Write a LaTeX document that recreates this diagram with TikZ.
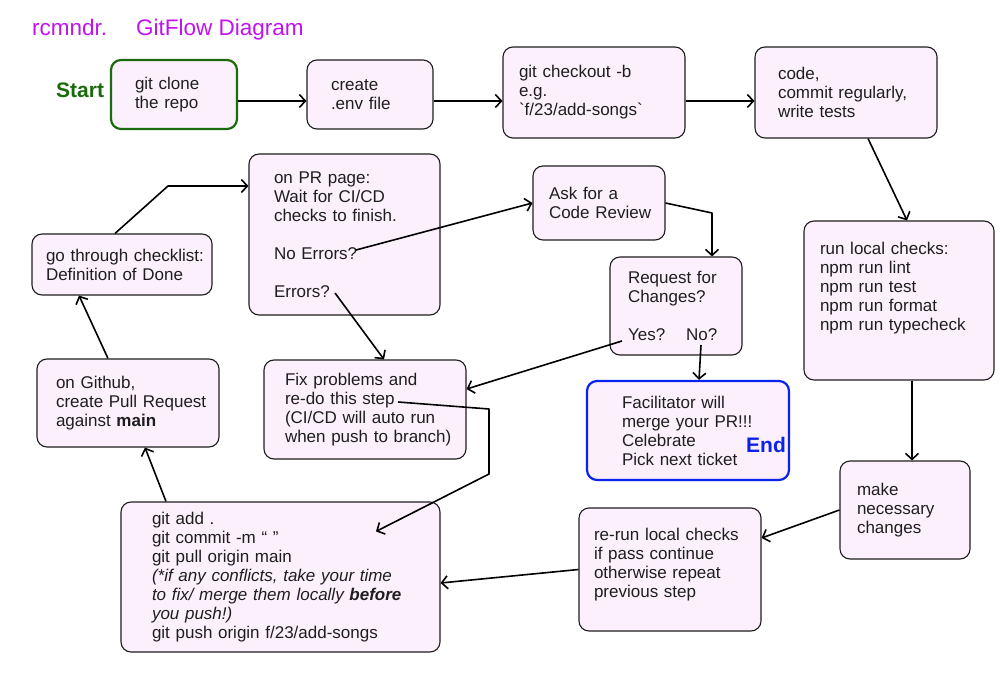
\documentclass[tikz,border=0pt]{standalone}
\usepackage{fontspec}
\setmainfont{Liberation Sans}
\usetikzlibrary{arrows.meta,positioning}
\definecolor{boxfill}{HTML}{FDF0FD}
\definecolor{inkdark}{HTML}{1E1E1E}
\definecolor{titleviolet}{HTML}{C212F2}
\definecolor{startgreen}{HTML}{1C6A0E}
\definecolor{endblue}{HTML}{0A22EE}
\tikzset{%
stepnode/.style={draw=inkdark, line width=1.1pt, rounded corners=10pt, fill=boxfill, align=left, inner sep=0pt, text=inkdark, font=\fontsize{17}{19}\selectfont},
startnode/.style={stepnode, draw=startgreen, line width=2.2pt},
endnode/.style={stepnode, draw=endblue, line width=2.2pt},
pt/.style={draw=black, line width=1.6pt, line join=round, -{Straight Barb[length=6pt,width=13pt]}}
}

\begin{document}
\begin{tikzpicture}[x=1pt,y=-1pt,
		headline/.style={anchor=base west, inner sep=0pt, text=titleviolet, font=\fontsize{22.5}{24}\selectfont},
		tag/.style={anchor=base west, inner sep=0pt, font=\fontsize{21}{22}\selectfont\bfseries}]
		\fill[white] (0,0) rectangle (1000,700);
		\useasboundingbox (0,0) rectangle (1000,700);
		
		% title and start / end tags
		\node[headline] (brand) at (32,36) {rcmndr.};
		\node[headline] (title) at (136,36) {GitFlow Diagram};
		\node[tag, text=startgreen] (startlbl) at (56,97.5) {Start};
		
		% top row
		\node[startnode, minimum width=126pt, minimum height=69pt, text width=78pt] (clone) at (174,94.5) {git clone\\the repo};
		\node[stepnode, minimum width=126pt, minimum height=69pt, text width=78pt] (envfile) at (370,94.5) {create\\.env file};
		\node[stepnode, minimum width=182pt, minimum height=91pt, text width=150pt] (checkout) at (594,92.5) {git checkout -b\\e.g.\\\textasciigrave f/23/add-songs\textasciigrave};
		\node[stepnode, minimum width=182pt, minimum height=91pt, text width=136pt] (code) at (846,92.5) {code,\\\mbox{commit regularly,}\\write tests};
		
		% right column
		\node[stepnode, minimum width=190pt, minimum height=159pt, text width=158pt] (localchk) at (899,300.5) {run local checks:\\npm run lint\\npm run test\\npm run format\\npm run typecheck\\[9pt]\mbox{}};
		\node[stepnode, minimum width=130pt, minimum height=98pt, text width=96pt] (fixup) at (905,510) {make\\necessary\\changes};
		\node[stepnode, minimum width=182pt, minimum height=123pt, text width=152pt] (rerun) at (670,569.5) {\mbox{re-run local checks}\\if pass continue\\otherwise repeat\\previous step\\[-5pt]\mbox{}};
		
		% bottom / left
		\node[stepnode, minimum width=319pt, minimum height=150pt, text width=257pt] (gitadd) at (280.5,577) {git add .\\git commit -m “ ”\\git pull origin main\\\textit{(*if any conflicts, take your time}\\\mbox{\textit{to fix/ merge them locally \textbf{before}}}\\\textit{you push!)}\\git push origin f/23/add-songs};
		\node[stepnode, minimum width=182pt, minimum height=88pt, text width=144pt] (github) at (128,403) {on Github,\\\mbox{create Pull Request}\\against \textbf{main}};
		\node[stepnode, minimum width=180pt, minimum height=61pt, text width=152pt] (checklist) at (122,264.5) {\mbox{go through checklist:}\\Definition of Done};
		
		% review loop
		\node[stepnode, minimum width=191pt, minimum height=161pt, text width=141pt] (prpage) at (344.5,234.5) {on PR page:\\Wait for CI/CD\\\mbox{checks to finish.}\\[19pt]No Errors?\\[19pt]Errors?};
		\node[stepnode, minimum width=132pt, minimum height=74pt, text width=100pt] (review) at (599,203) {Ask for a\\\mbox{Code Review}};
		\node[stepnode, minimum width=132pt, minimum height=98pt, text width=96pt] (request) at (676,306) {Request for\\Changes?\\[19pt]Yes?\hspace{21pt}No?};
		\node[stepnode, minimum width=202pt, minimum height=99pt, text width=160pt] (fixprob) at (365,409.5) {Fix problems and\\re-do this step\\\mbox{(CI/CD will auto run}\\\mbox{when push to branch)}};
		\node[endnode, minimum width=202pt, minimum height=99pt, text width=132pt] (merge) at (688,430.5) {Facilitator will\\\mbox{merge your PR!!!}\\Celebrate\\Pick next ticket};
		\node[tag, text=endblue] (endlbl) at (746,452) {End};
		
		% connector ends inside boxes
		\coordinate (noerr) at ([shift={(11.5,15.5)}]prpage.center);
		\coordinate (err) at ([shift={(-9.5,58.5)}]prpage.center);
		\coordinate (yes) at ([shift={(-54,35)}]request.center);
		\coordinate (no) at ([shift={(25,39)}]request.center);
		\coordinate (redo) at ([shift={(33,-7.5)}]fixprob.center);
		\coordinate (bend1) at (168,186);
		\coordinate (bend2) at (712,213);
		\coordinate (bend3) at (489,409);
		\coordinate (bend4) at (489,474);
		
		\path[pt] ([yshift=-6.5pt]clone.east) -- ([yshift=-6.5pt]envfile.west);
		\path[pt] ([yshift=-6.5pt]envfile.east) -- ([yshift=-6.5pt]envfile.east -| checkout.west);
		\path[pt] ([yshift=-8.5pt]checkout.east) -- ([yshift=-8.5pt]code.west);
		\path[pt] ([xshift=22pt]code.south) -- ([xshift=8pt]localchk.north);
		\path[pt] ([xshift=13pt]localchk.south) -- ([xshift=13pt]localchk.south |- fixup.north);
		\path[pt] (fixup.west) -- ([yshift=31.5pt]rerun.east);
		\path[pt] (rerun.west) -- ([yshift=-6pt]gitadd.east);
		\path[pt] ([xshift=-114.5pt]gitadd.north) -- ([xshift=17pt]github.south);
		\path[pt] ([xshift=-20pt]github.north) -- ([xshift=-43pt]checklist.south);
		\path[pt] ([xshift=-7pt]checklist.north) -- (bend1) -- (bend1 -| prpage.west);
		\path[pt] (noerr) -- (review.west);
		\path[pt] (err) -- ([xshift=19pt]fixprob.north);
		\path[pt] (review.east) -- (bend2) -- (bend2 |- request.north);
		\path[pt] (yes) -- ([yshift=20.5pt]fixprob.east);
		\path[pt] (no) -- ([xshift=11pt]merge.north);
		\path[pt] (redo) -- (bend3) -- (bend4) -- ([shift={(95.5,30)}]gitadd.north);
	\end{tikzpicture}
\end{document}
